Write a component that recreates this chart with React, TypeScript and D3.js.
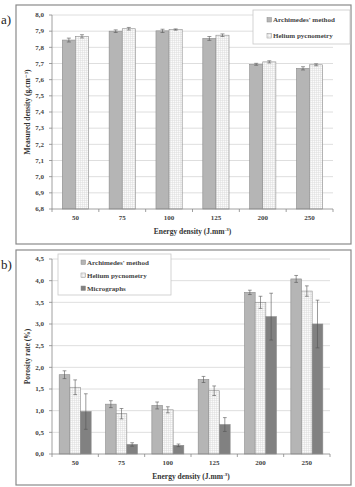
import * as d3 from 'd3'

// energy density categories (J.mm-3)
const categories = ['50', '75', '100', '125', '200', '250']

// panel a: measured density (g.cm-3)
const archDensity = [7.845, 7.9, 7.902, 7.855, 7.695, 7.67]
const archDensityErr = [0.012, 0.008, 0.01, 0.012, 0.006, 0.01]
const heliumDensity = [7.868, 7.915, 7.91, 7.875, 7.71, 7.692]
const heliumDensityErr = [0.01, 0.008, 0.004, 0.008, 0.007, 0.006]
const densityTicks = [6.8, 6.9, 7.0, 7.1, 7.2, 7.3, 7.4, 7.5, 7.6, 7.7, 7.8, 7.9, 8.0]

// panel b: porosity rate (%)
const archPorosity = [1.83, 1.15, 1.12, 1.72, 3.73, 4.04]
const archPorosityErr = [0.09, 0.08, 0.08, 0.07, 0.05, 0.08]
const heliumPorosity = [1.54, 0.93, 1.02, 1.46, 3.5, 3.76]
const heliumPorosityErr = [0.17, 0.12, 0.07, 0.11, 0.14, 0.12]
const microPorosity = [0.98, 0.22, 0.2, 0.68, 3.17, 3.0]
const microPorosityErr = [0.41, 0.04, 0.03, 0.16, 0.54, 0.55]
const porosityTicks = [0, 0.5, 1.0, 1.5, 2.0, 2.5, 3.0, 3.5, 4.0, 4.5]

const font = '"Liberation Serif", "DejaVu Serif", serif'
const fmt = (v: number) => v.toFixed(1).replace('.', ',')

const fills: Record<string, string> = {
  arch: '#b5b5b5',
  helium: 'url(#gridPat)',
  micro: 'url(#hatchPat)',
}
const legendNames: Record<string, string> = {
  arch: "Archimedes' method",
  helium: 'Helium pycnometry',
  micro: 'Micrographs',
}

type Series = { key: string; values: number[]; errs: number[] }

function Panel(props: {
  top: number
  bottom: number
  plotLeft: number
  plotRight: number
  plotTop: number
  plotBottom: number
  domain: [number, number]
  ticks: number[]
  series: Series[]
  padding: number
  yTitle: string
  tag: string
  tagY: number
  legend: { x: number; y: number; w: number; h: number; step: number; tx: number }
}) {
  const p = props
  const x = d3.scaleBand<string>().domain(categories).range([p.plotLeft, p.plotRight]).paddingInner(p.padding).paddingOuter(p.padding / 2)
  const inner = d3.scaleBand<string>().domain(p.series.map(s => s.key)).range([0, x.bandwidth()])
  const y = d3.scaleLinear().domain(p.domain).range([p.plotBottom, p.plotTop])
  const bw = inner.bandwidth()
  const cap = Math.min(4, bw * 0.35)
  return (
    <g>
      <rect x={16} y={p.top} width={335} height={p.bottom - p.top} fill="#fff" stroke="#8a8a8a" strokeWidth={1.2} />
      <text x={1} y={p.tagY} fontFamily={font} fontSize={13} fill="#222">{p.tag}</text>
      {p.ticks.map(t => (
        <g key={t}>
          {t !== p.domain[0] && (
            <line x1={p.plotLeft} x2={p.plotRight} y1={y(t)} y2={y(t)} stroke="#d6d6d6" strokeWidth={0.8} />
          )}
          <line x1={p.plotLeft - 3} x2={p.plotLeft} y1={y(t)} y2={y(t)} stroke="#888" strokeWidth={0.8} />
          <text x={p.plotLeft - 8} y={y(t)} dy="0.33em" textAnchor="end" fontFamily={font} fontWeight="bold" fontSize={7} fill="#444">{fmt(t)}</text>
        </g>
      ))}
      {categories.map((c, i) => (
        <g key={c}>
          {p.series.map(s => {
            const bx = x(c)! + inner(s.key)!
            const v = s.values[i]
            const e = s.errs[i]
            const cx = bx + bw / 2
            return (
              <g key={s.key}>
                <rect x={bx} y={y(v)} width={bw} height={y(p.domain[0]) - y(v)} fill={fills[s.key]} stroke="#8c8c8c" strokeWidth={0.6} />
                <line x1={cx} x2={cx} y1={y(v + e)} y2={y(v - e)} stroke="#555" strokeWidth={0.6} />
                <line x1={cx - cap / 2} x2={cx + cap / 2} y1={y(v + e)} y2={y(v + e)} stroke="#555" strokeWidth={0.6} />
                <line x1={cx - cap / 2} x2={cx + cap / 2} y1={y(v - e)} y2={y(v - e)} stroke="#555" strokeWidth={0.6} />
              </g>
            )
          })}
          <text x={x(c)! + x.bandwidth() / 2} y={p.plotBottom + 11} textAnchor="middle" fontFamily={font} fontWeight="bold" fontSize={7} fill="#444">{c}</text>
        </g>
      ))}
      {categories.concat(['']).map((c, i) => {
        const tx = p.plotLeft + (i * (p.plotRight - p.plotLeft)) / categories.length
        return <line key={i} x1={tx} x2={tx} y1={p.plotBottom} y2={p.plotBottom + 3} stroke="#888" strokeWidth={0.8} />
      })}
      <line x1={p.plotLeft} x2={p.plotRight} y1={p.plotBottom} y2={p.plotBottom} stroke="#888" strokeWidth={0.8} />
      <line x1={p.plotLeft} x2={p.plotLeft} y1={p.plotTop} y2={p.plotBottom} stroke="#888" strokeWidth={0.8} />
      <text x={(p.plotLeft + p.plotRight) / 2} y={p.plotBottom + 25} textAnchor="middle" fontFamily={font} fontWeight="bold" fontSize={7.5} fill="#333">
        Energy density (J.mm<tspan dy={-3} fontSize={5}>-3</tspan><tspan dy={3}>)</tspan>
      </text>
      <text transform={`translate(30,${(p.plotTop + p.plotBottom) / 2}) rotate(-90)`} textAnchor="middle" fontFamily={font} fontWeight="bold" fontSize={7.5} fill="#333">
        {p.yTitle}
      </text>
      <rect x={p.legend.x} y={p.legend.y} width={p.legend.w} height={p.legend.h} fill="#fff" stroke="#c8c8c8" strokeWidth={0.8} />
      {p.series.map((s, i) => {
        const ly = p.legend.y + p.legend.step * (i + 0.5) + 2
        return (
          <g key={s.key}>
            <rect x={p.legend.tx - 6} y={ly - 2.5} width={4.5} height={4.5} fill={fills[s.key]} stroke="#8c8c8c" strokeWidth={0.5} />
            <text x={p.legend.tx} y={ly} dy="0.33em" fontFamily={font} fontWeight="bold" fontSize={7} fill="#444">{legendNames[s.key]}</text>
          </g>
        )
      })}
    </g>
  )
}

export default function App() {
  return (
    <svg width={355} height={487} style={{ position: 'absolute', left: 0, top: 0, background: '#fff' }}>
      <defs>
        <pattern id="gridPat" width={2} height={2} patternUnits="userSpaceOnUse">
          <rect width={2} height={2} fill="#fbfbfb" />
          <path d="M0 0.5H2M0.5 0V2" stroke="#dcdcdc" strokeWidth={0.5} />
        </pattern>
        <pattern id="hatchPat" width={2} height={2} patternUnits="userSpaceOnUse">
          <rect width={2} height={2} fill="#909090" />
          <path d="M0 0L2 2M2 0L0 2" stroke="#727272" strokeWidth={0.5} />
        </pattern>
      </defs>
      <Panel
        top={5}
        bottom={244}
        plotLeft={52}
        plotRight={333}
        plotTop={15}
        plotBottom={209}
        domain={[6.8, 8.0]}
        ticks={densityTicks}
        series={[
          { key: 'arch', values: archDensity, errs: archDensityErr },
          { key: 'helium', values: heliumDensity, errs: heliumDensityErr },
        ]}
        padding={0.44}
        yTitle={'Measured density (g.cm⁻³)'}
        tag="a)"
        tagY={24}
        legend={{ x: 253, y: 10, w: 97, h: 34, step: 16, tx: 273 }}
      />
      <Panel
        top={250}
        bottom={485}
        plotLeft={52}
        plotRight={330}
        plotTop={259}
        plotBottom={454}
        domain={[0, 4.5]}
        ticks={porosityTicks}
        series={[
          { key: 'arch', values: archPorosity, errs: archPorosityErr },
          { key: 'helium', values: heliumPorosity, errs: heliumPorosityErr },
          { key: 'micro', values: microPorosity, errs: microPorosityErr },
        ]}
        padding={0.31}
        yTitle="Porosity rate (%)"
        tag="b)"
        tagY={269}
        legend={{ x: 58, y: 254, w: 113, h: 41, step: 13, tx: 87 }}
      />
    </svg>
  )
}
